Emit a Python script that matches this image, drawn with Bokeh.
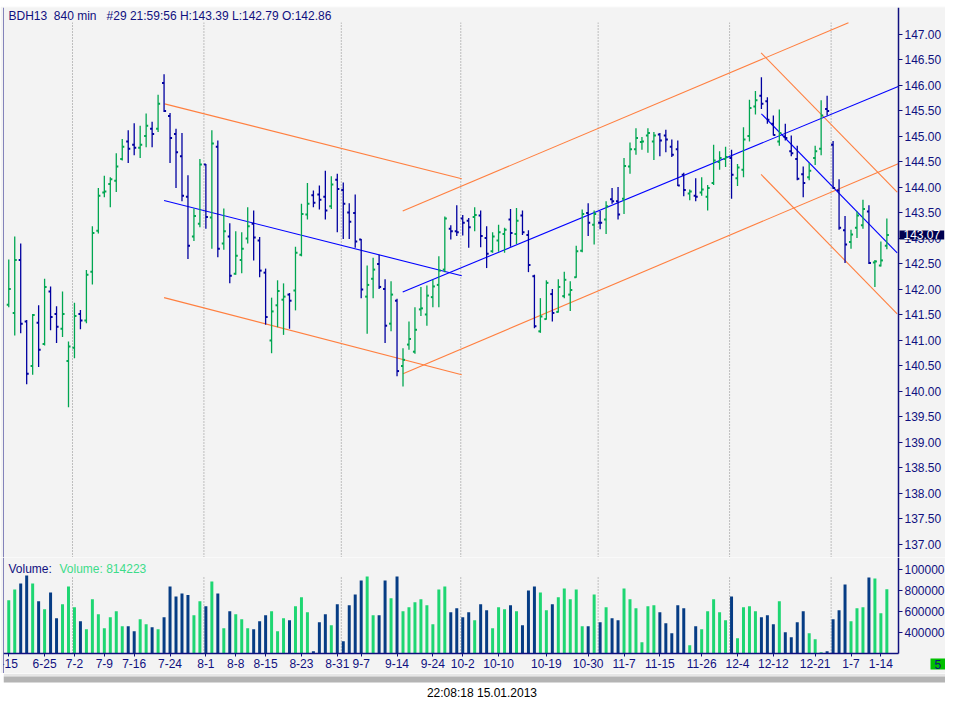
from bokeh.plotting import figure
from bokeh.layouts import column
from bokeh.models import (Range1d, FixedTicker, NumeralTickFormatter, Label, Span,
                          ColumnDataSource, LinearAxis)
from bokeh.embed import file_html
from bokeh.resources import INLINE

# ---------------- data ----------------
opens = [141.70, 141.54, 142.58, 141.37, 140.50, 141.35, 140.93, 141.96, 141.52, 141.23,
         140.60, 140.86, 141.52, 141.39, 142.35, 143.15, 143.90, 144.07, 144.13, 144.56,
         144.90, 144.84, 144.78, 145.01, 145.15, 145.15, 146.05, 145.40, 145.05, 144.61,
         143.82, 143.04, 143.29, 144.45, 143.41, 144.80, 142.90, 143.04, 142.31, 142.58,
         143.00, 143.29, 142.96, 142.33, 141.00, 141.69, 141.80, 141.90, 141.98, 142.68,
         143.47, 143.85, 143.86, 143.82, 143.63, 144.15, 143.95, 143.51, 143.50, 142.98,
         141.86, 142.21, 142.50, 142.01, 141.33, 141.78, 140.50, 140.92, 140.78, 141.61,
         141.51, 141.85, 142.09, 142.39, 143.19, 143.14, 143.39, 143.35, 143.42, 143.45,
         143.01, 142.75, 142.96, 143.09, 143.37, 143.09, 143.45, 143.07, 142.26, 141.18,
         141.42, 141.91, 141.56, 141.87, 141.90, 142.24, 142.76, 143.50, 143.27, 143.31,
         143.37, 143.77, 143.73, 143.78, 144.41, 144.75, 144.89, 145.02, 144.90, 145.04,
         145.02, 144.80, 144.75, 144.25, 143.88, 143.84, 143.90, 143.82, 144.09, 144.50,
         144.56, 144.58, 144.18, 144.35, 145.01, 145.59, 145.80, 145.69, 145.25, 144.90,
         145.00, 144.71, 144.56, 144.26, 144.20, 144.58, 144.76, 145.54, 144.84, 143.94,
         143.16, 142.93, 143.21, 143.26, 143.53, 142.53, 142.47, 142.86]
highs = [142.59, 143.04, 142.90, 141.40, 141.52, 141.69, 142.21, 142.06, 141.67, 141.96,
         140.98, 141.74, 141.60, 142.38, 143.24, 143.99, 144.23, 144.20, 144.67, 144.95,
         145.12, 145.26, 145.21, 145.45, 145.29, 145.82, 146.22, 145.46, 145.15, 145.07,
         144.24, 143.59, 144.56, 144.46, 145.12, 144.92, 143.59, 143.30, 143.14, 143.12,
         143.61, 143.55, 143.03, 142.41, 141.84, 142.18, 142.12, 141.93, 142.84, 143.68,
         144.09, 143.94, 144.04, 144.33, 144.22, 144.27, 144.10, 143.69, 143.86, 142.99,
         142.47, 142.62, 142.68, 142.20, 142.16, 141.82, 140.85, 141.37, 141.65, 142.05,
         142.08, 142.19, 142.65, 143.43, 143.26, 143.65, 143.46, 143.40, 143.61, 143.55,
         143.24, 143.12, 143.27, 143.21, 143.58, 143.60, 143.55, 143.16, 142.29, 141.83,
         142.18, 142.01, 142.20, 142.35, 142.16, 142.86, 143.57, 143.69, 143.55, 143.54,
         143.73, 143.99, 144.01, 144.58, 144.88, 145.16, 144.99, 145.16, 145.09, 145.07,
         145.13, 144.94, 144.92, 144.29, 143.96, 144.18, 144.20, 144.05, 144.84, 144.71,
         144.80, 144.74, 144.46, 145.18, 145.72, 145.89, 146.16, 145.77, 145.41, 145.53,
         145.25, 145.02, 144.82, 144.41, 144.48, 144.82, 145.71, 145.80, 144.91, 144.16,
         143.44, 143.17, 143.53, 143.76, 143.65, 142.58, 142.94, 143.39]
lows = [141.65, 141.10, 141.14, 140.14, 140.33, 140.48, 140.90, 141.20, 140.95, 141.07,
        139.69, 140.65, 141.22, 141.34, 142.10, 143.10, 143.81, 143.61, 143.91, 144.53,
        144.48, 144.63, 144.58, 144.79, 144.79, 145.09, 145.48, 144.48, 143.99, 143.73,
        142.60, 142.95, 143.22, 143.19, 142.80, 142.63, 142.78, 142.12, 142.29, 142.32,
        142.90, 142.57, 142.24, 141.31, 140.75, 141.26, 141.11, 141.23, 141.59, 142.65,
        143.37, 143.61, 143.57, 143.37, 143.58, 143.12, 142.99, 142.99, 142.82, 141.83,
        141.13, 141.83, 142.01, 140.95, 141.18, 140.30, 140.10, 140.82, 140.74, 141.48,
        141.29, 141.65, 141.65, 142.34, 142.98, 143.05, 143.06, 142.82, 143.14, 142.83,
        142.42, 142.72, 142.74, 142.72, 142.84, 142.89, 143.07, 142.34, 141.24, 141.15,
        141.41, 141.37, 141.55, 141.83, 141.58, 142.23, 142.73, 143.05, 142.88, 143.18,
        143.09, 143.68, 143.37, 143.48, 144.27, 144.64, 144.74, 144.68, 144.54, 144.61,
        144.69, 144.60, 144.03, 143.83, 143.75, 143.73, 143.84, 143.55, 144.05, 144.35,
        144.40, 143.78, 144.03, 144.20, 144.90, 145.43, 145.54, 145.25, 145.02, 144.82,
        144.92, 144.61, 144.14, 143.81, 144.14, 144.44, 144.63, 145.41, 143.97, 143.17,
        142.52, 142.80, 143.01, 143.19, 142.50, 142.05, 142.45, 142.79]
closes = [142.01, 142.58, 141.33, 140.35, 141.50, 140.82, 142.05, 141.46, 141.27, 141.52,
          140.88, 141.48, 141.39, 142.29, 143.11, 143.84, 143.92, 144.16, 144.41, 144.80,
          144.76, 144.78, 144.84, 145.21, 145.05, 145.64, 145.50, 144.97, 144.69, 143.84,
          142.86, 143.44, 144.45, 143.42, 144.86, 142.80, 143.14, 142.27, 142.66, 142.80,
          143.24, 143.02, 142.37, 141.46, 141.57, 141.97, 141.86, 141.78, 142.72, 143.48,
          143.68, 143.70, 143.76, 143.55, 144.06, 143.97, 143.68, 143.33, 142.94, 142.00,
          142.09, 142.39, 142.05, 141.29, 141.90, 140.40, 140.62, 141.03, 141.21, 141.63,
          141.88, 142.06, 142.37, 143.39, 143.14, 143.12, 143.31, 143.22, 143.46, 143.05,
          142.70, 143.04, 143.12, 143.17, 143.11, 143.35, 143.12, 142.48, 141.28, 141.47,
          142.13, 141.54, 142.05, 142.19, 141.99, 142.75, 143.48, 143.31, 143.48, 143.31,
          143.63, 143.73, 143.47, 144.42, 144.75, 144.97, 144.90, 145.07, 145.02, 144.92,
          144.94, 144.64, 144.04, 143.95, 143.92, 143.82, 143.96, 143.99, 144.53, 144.58,
          144.60, 144.25, 144.39, 144.94, 145.56, 145.71, 145.64, 145.33, 145.03, 145.07,
          144.97, 144.67, 144.17, 144.09, 144.33, 144.71, 145.41, 145.50, 143.99, 143.21,
          142.88, 143.08, 143.45, 143.58, 142.52, 142.55, 142.57, 143.07]
volumes = [707600, 812400, 869500, 945700, 869500, 698100, 621900, 783800, 536200, 669500,
           841000, 641000, 507600, 431400, 717100, 574300, 441000, 545700, 602800, 460000,
           460000, 412400, 526700, 479000, 450500, 431400, 545700, 841000, 745700, 774300,
           758400, 564800, 698100, 650500, 888600, 774300, 441000, 602800, 574300, 526700,
           441000, 431400, 507600, 564800, 602800, 412400, 536200, 517100, 650500, 736200,
           593300, 221900, 498100, 574300, 469500, 669500, 317100, 660000, 764800, 898100,
           936200, 564800, 564800, 898100, 726700, 936200, 602800, 641000, 688600, 717100,
           660000, 479000, 812400, 841000, 593300, 631400, 545700, 593300, 517100, 669500,
           612400, 441000, 641000, 621900, 660000, 602800, 469500, 802900, 841000, 783800,
           612400, 669500, 736200, 821900, 717100, 812400, 460000, 460000, 764800, 498100,
           641000, 536200, 517100, 821900, 717100, 631400, 307600, 650500, 660000, 593300,
           488600, 393300, 660000, 631400, 279000, 460000, 431400, 602800, 717100, 593300,
           517100, 745700, 345700, 641000, 650500, 602800, 545700, 564800, 479000, 698100,
           402900, 355300, 498100, 602800, 393300, 336200, 212400, 221900, 526700, 612400,
           860000, 507600, 631400, 641000, 926700, 917100, 583800, 814223]

date_tick_index = [0, 6, 11, 16, 21, 27, 33, 38, 43, 49, 55, 59, 65, 71, 76, 82, 90, 97,
                   103, 109, 116, 122, 128, 135, 141, 146]
date_tick_labels = ["-15", "6-25", "7-2", "7-9", "7-16", "7-24", "8-1", "8-8", "8-15",
                    "8-23", "8-31", "9-7", "9-14", "9-24", "10-2", "10-10", "10-19",
                    "10-30", "11-7", "11-15", "11-26", "12-4", "12-12", "12-21", "1-7", "1-14"]
month_breaks = [10.67, 32.67, 55.67, 75.67, 98.67, 120.67, 137.67]

price_ticks = [137.0, 137.5, 138.0, 138.5, 139.0, 139.5, 140.0, 140.5, 141.0, 141.5,
               142.0, 142.5, 143.0, 143.5, 144.0, 144.5, 145.0, 145.5, 146.0, 146.5, 147.0]
volume_ticks = [400000, 600000, 800000, 1000000]
volume_tick_labels = ["400000", "600000", "800000", "100000"]

# drawn trend channels (bar index, price)
chan_x0 = [26.1, 26.0, 26.0, 65.95, 65.95, 66.0, 125.95, 126.0, 125.95]
chan_y0 = [145.64, 143.745, 141.84, 143.54, 141.95, 140.35, 146.64, 145.445, 144.255]
chan_x1 = [75.83, 75.83, 75.83, 140.57, 148.9, 148.9, 148.73, 148.73, 148.73]
chan_y1 = [144.17, 142.27, 140.33, 147.23, 145.98, 144.465, 143.91, 142.72, 141.52]
chan_kind = ["edge", "mid", "edge", "edge", "mid", "edge", "edge", "mid", "edge"]

title_text = "BDH13\u00a0 840 min\u00a0\u00a0 #29 21:59:56 H:143.39 L:142.79 O:142.86"
status_text = "22:08:18 15.01.2013"
last_close = closes[-1]
last_volume = volumes[-1]

# ---------------- style ----------------
BG = "#f3f3f3"
NAVY = "#10107f"
UP = "#00a651"
DOWN = "#0000a0"
VUP = "#1ed672"
VDOWN = "#063c84"
ORANGE = "#ff7f3f"
CBLUE = "#0000ff"
FONT = "Liberation Sans"
W = 945
LEFT = 3
FRAME_W = W - LEFT

n = len(opens)
idx = list(range(n))
colors = [UP if c > o else DOWN for o, c in zip(opens, closes)]
vcolors = [VUP if c > o else VDOWN for o, c in zip(opens, closes)]
src = ColumnDataSource(dict(
    idx=idx, o=opens, h=highs, l=lows, c=closes, v=volumes,
    left=[i - 0.34 for i in idx], right=[i + 0.34 for i in idx],
    color=colors, vcolor=vcolors))

# x scale: bar axis end X1 sits 895 px right of X0; frame continues under the axis labels
X0, X1 = -0.88, 148.95
XF = X0 + FRAME_W * (X1 - X0) / 895.0
xr = Range1d(X0, XF)
PY0, PY1 = 136.745, 147.529
VY0, VY1 = 200000, 1117140
VYB = VY0 - 20 * (VY1 - VY0) / 96.0


def style_axis(ax):
    ax.axis_line_color = NAVY
    ax.axis_line_width = 1.5
    ax.major_tick_line_color = NAVY
    ax.major_tick_out = 4
    ax.major_tick_in = 0
    ax.minor_tick_line_color = None
    ax.major_label_standoff = 2
    ax.major_label_text_color = NAVY
    ax.major_label_text_font = FONT
    ax.major_label_text_font_size = "12px"


# ---------------- window top band ----------------
band = figure(width=W, height=6, x_range=Range1d(0, 1), y_range=Range1d(0, 1),
              output_backend="svg", toolbar_location=None, x_axis_location=None,
              y_axis_location=None, min_border=0, background_fill_color="#acacac",
              border_fill_color="#acacac", outline_line_color=None)
band.grid.visible = False

# ---------------- price panel ----------------
p = figure(width=W, height=551, x_range=xr, y_range=Range1d(PY0, PY1),
           output_backend="svg", toolbar_location=None, x_axis_location=None,
           y_axis_location=None, min_border_left=LEFT, min_border_right=0,
           min_border_top=1, min_border_bottom=0,
           background_fill_color=BG, border_fill_color=BG, outline_line_color=None)
p.grid.visible = False
ya = LinearAxis(fixed_location=X1, ticker=FixedTicker(ticks=price_ticks),
                formatter=NumeralTickFormatter(format="0.00"))
style_axis(ya)
p.add_layout(ya, "right")

p.segment(x0=month_breaks, x1=month_breaks, y0=[PY0] * len(month_breaks),
          y1=[147.23] * len(month_breaks), line_color="#888888", line_width=1,
          line_dash="1 2")

for kind in ("edge", "mid"):
    sel = [k for k, kk in enumerate(chan_kind) if kk == kind]
    p.segment(x0=[chan_x0[k] for k in sel], y0=[chan_y0[k] for k in sel],
              x1=[chan_x1[k] for k in sel], y1=[chan_y1[k] for k in sel],
              line_color=ORANGE if kind == "edge" else CBLUE, line_width=1.1)

p.segment(x0="idx", y0="l", x1="idx", y1="h", source=src, line_color="color", line_width=1.3)
p.segment(x0="left", y0="o", x1="idx", y1="o", source=src, line_color="color", line_width=2)
p.segment(x0="idx", y0="c", x1="right", y1="c", source=src, line_color="color", line_width=2)

p.add_layout(Span(location=X0, dimension="height", line_color=NAVY, line_width=1,
                  level="underlay"))
p.add_layout(Label(x=X0, y=PY1, x_offset=5, y_offset=-1, text_baseline="top",
                   text=title_text, text_color=NAVY, text_font=FONT, text_font_size="12px"))
p.add_layout(Label(x=X1, y=last_close, x_offset=1, text_baseline="middle", text_align="left",
                   text="%.2f" % last_close, text_color="white", text_font=FONT,
                   text_font_size="12px", background_fill_color="#000050",
                   padding=(4, 4, 0, 0)))

# ---------------- volume panel ----------------
v = figure(width=W, height=116, x_range=xr, y_range=Range1d(VYB, VY1),
           output_backend="svg", toolbar_location=None, x_axis_location=None,
           y_axis_location=None, min_border_left=LEFT, min_border_right=0,
           min_border_top=0, min_border_bottom=0,
           background_fill_color=BG, border_fill_color=BG, outline_line_color=None)
v.grid.visible = False
vy = LinearAxis(fixed_location=X1, bounds=(VY0, VY1), ticker=FixedTicker(ticks=volume_ticks))
vy.major_label_overrides = {t: s for t, s in zip(volume_ticks, volume_tick_labels)}
style_axis(vy)
v.add_layout(vy, "right")
vx = LinearAxis(fixed_location=VY0, bounds=(X0, X1), ticker=FixedTicker(ticks=date_tick_index))
vx.major_label_overrides = {t: s for t, s in zip(date_tick_index, date_tick_labels)}
style_axis(vx)
vx.major_tick_out = 3
v.add_layout(vx, "below")

v.segment(x0=month_breaks, x1=month_breaks, y0=[VY0] * len(month_breaks),
          y1=[936000] * len(month_breaks), line_color="#888888", line_width=1,
          line_dash="1 2")
v.vbar(x="idx", top="v", bottom=VY0, width=0.5, source=src, fill_color="vcolor",
       line_color=None)
v.add_layout(Span(location=X0, dimension="height", line_color=NAVY, line_width=1,
                  level="underlay"))
v.add_layout(Label(x=X0, y=VY1, x_offset=5, y_offset=-4, text_baseline="top",
                   text="Volume:", text_color=NAVY, text_font=FONT, text_font_size="12px"))
v.add_layout(Label(x=X0, y=VY1, x_offset=56, y_offset=-4, text_baseline="top",
                   text="Volume: %d" % last_volume, text_color="#3ddc8a", text_font=FONT,
                   text_font_size="12px"))
v.add_layout(Label(x=X1, y=VY0, x_offset=32, y_offset=-5, text_baseline="top",
                   text="5", text_color=NAVY, text_font=FONT, text_font_size="12px",
                   background_fill_color="#00c000", padding=(4, 4, 1, 1)))

# ---------------- status strip ----------------
s = figure(width=W, height=27, x_range=Range1d(0, W), y_range=Range1d(0, 27),
           output_backend="svg", toolbar_location=None, x_axis_location=None,
           y_axis_location=None, min_border=0, background_fill_color="white",
           border_fill_color="white", outline_line_color=None)
s.grid.visible = False
s.quad(left=[0, 0], right=[W, W], bottom=[24, 18], top=[27, 24],
       fill_color=["#e6e6e6", "#b4b4b4"], line_color=None)
s.add_layout(Label(x=480, y=8, text=status_text, text_align="center",
                   text_baseline="middle", text_color="black", text_font=FONT,
                   text_font_size="12px"))

layout = column(band, p, v, s, spacing=0)
open("out.html", "w").write(file_html(layout, INLINE))
